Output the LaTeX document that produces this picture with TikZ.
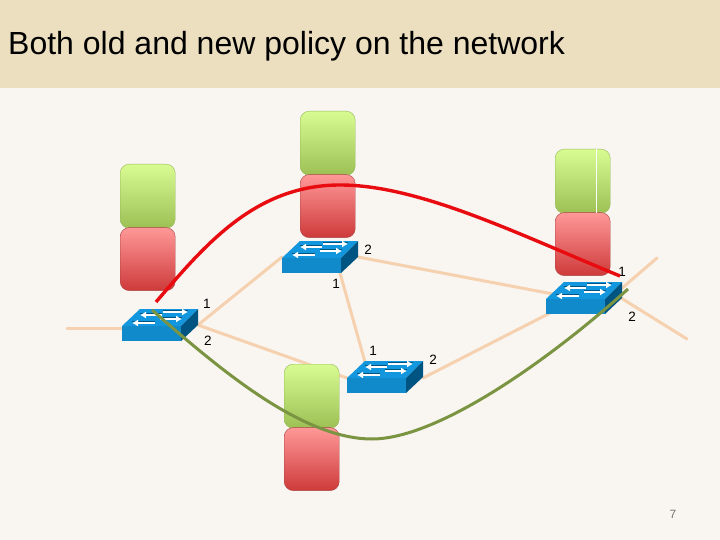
\documentclass[tikz,border=0pt]{standalone}
\usepackage{fontspec}
\setmainfont{Liberation Sans}
\usetikzlibrary{positioning}
\usetikzlibrary{arrows.meta}
\definecolor{figFondo}{RGB}{249,245,240}
\definecolor{figBanda}{RGB}{236,223,192}
\definecolor{figEnlace}{RGB}{245,209,176}
\definecolor{figRojo}{RGB}{232,12,16}
\definecolor{figOliva}{RGB}{122,148,66}
\definecolor{figTapa}{RGB}{18,150,222}
\definecolor{figLado}{RGB}{0,84,130}
\definecolor{figVerdeA}{RGB}{216,252,146}
\definecolor{figVerdeB}{RGB}{156,192,84}
\definecolor{figVerdeBorde}{RGB}{150,185,90}
\definecolor{figRojoA}{RGB}{255,152,152}
\definecolor{figRojoB}{RGB}{206,58,58}
\definecolor{figRojoBorde}{RGB}{170,70,70}
\tikzset{
  enlace/.style={line width=3pt, draw=figEnlace, line cap=round},
  curvar/.style={line width=3.4pt, draw=figRojo},
  curvav/.style={line width=3pt, draw=figOliva},
  bloquev/.style={
    rectangle, rounded corners=9pt, draw=figVerdeBorde, line width=0.4pt,
    top color=figVerdeA, bottom color=figVerdeB,
    minimum height=64pt, minimum width=55pt, inner sep=0pt
  },
  bloquer/.style={
    rectangle, rounded corners=9pt, draw=figRojoBorde, line width=0.4pt,
    top color=figRojoA, bottom color=figRojoB,
    minimum height=63pt, minimum width=55pt, inner sep=0pt
  },
  puerto/.style={font=\fontsize{13.5}{13.5}\selectfont, inner sep=0pt},
  flechita/.style={-{Latex[length=6pt,width=7pt]}, line width=2.2pt, draw=white},
  switch/.pic={
    \fill[figTapa] (0,-15) -- (59,-15) -- (76,-32) -- (18,-32) -- cycle;
    \fill[figTapa!92!black] (0,0) rectangle (59,-15);
    \fill[figLado] (59,0) -- (59,-15) -- (76,-32) -- (76,-16) -- cycle;
    \foreach \xa/\xb/\yy in {40/18/-26, 41/66/-29, 33/10/-18, 38/60/-22}{
      \draw[line width=0.7pt, draw=figLado] (\xa,\yy-1.8) -- (\xb,\yy-1.8);
      \draw[flechita] (\xa,\yy) -- (\xb,\yy);
    }
  }
}
\begin{document}
\begin{tikzpicture}[x=1pt,y=-1pt]
  \useasboundingbox (0,0) rectangle (720,540);
  \fill[figFondo] (0,0) rectangle (720,540);
  \fill[figBanda] (0,0) rectangle (720,88);
  \node[anchor=base west, font=\fontsize{32}{32}\selectfont, inner sep=0pt] (titulo) at (8,55) {Both old and new policy on the network};
  % switch positions
  \coordinate (sA) at (122,341);
  \coordinate (sB) at (282,273);
  \coordinate (sC) at (347,393);
  \coordinate (sD) at (546,314);
  \coordinate (libreI) at (67,328);
  \coordinate (libreS) at (657,258);
  \coordinate (libreB) at (687,339);
  \coordinate (aIzq) at (122,328);
  \coordinate (aDer) at (198,325);
  \coordinate (bIzq) at (282,257);
  \coordinate (cIzq) at (347,378);
  \coordinate (cSup) at (365,362);
  \coordinate (bInf) at (340,273);
  \coordinate (bDer) at (358,257);
  \coordinate (dIzq) at (553,294);
  \coordinate (dInf) at (550,313);
  \coordinate (cDer) at (423,378);
  \coordinate (dDer) at (621,289);
  \coordinate (dDerB) at (621,298);
  % links
  \draw[enlace] (libreI) -- (aIzq);
  \draw[enlace] (aDer) -- (bIzq);
  \draw[enlace] (aDer) -- (cIzq);
  \draw[enlace] (bInf) -- (cSup);
  \draw[enlace] (bDer) -- (dIzq);
  \draw[enlace] (cDer) -- (dInf);
  \draw[enlace] (dDer) -- (libreS);
  \draw[enlace] (dDerB) -- (libreB);
  % policy blocks
  \node[bloquev, anchor=north west] (vA) at (120,164) {};
  \node[bloquer, below=-1pt of vA] (rA) {};
  \node[bloquev, anchor=north west] (vB) at (300,111) {};
  \node[bloquer, below=-1pt of vB] (rB) {};
  \node[bloquev, anchor=north west] (vD) at (555,149) {};
  \node[bloquer, below=-1pt of vD] (rD) {};
  \node[bloquev, anchor=north west] (vC) at (284,364) {};
  \node[bloquer, below=-1pt of vC] (rC) {};
  \draw[white, line width=0.7pt] ([xshift=-14pt]vD.north east) -- ([xshift=-14pt]vD.south east);
  % switches
  \pic at (sA) {switch};
  \pic at (sB) {switch};
  \pic at (sC) {switch};
  \pic at (sD) {switch};
  % ports
  \node[puerto] (pB2) at (368,250) {2};
  \node[puerto] (pD1) at (622,272) {1};
  \node[puerto] (pB1) at (336,284) {1};
  \node[puerto] (pA1) at (207,304) {1};
  \node[puerto] (pD2) at (632,317) {2};
  \node[puerto] (pA2) at (208,341) {2};
  \node[puerto] (pC1) at (373,351) {1};
  \node[puerto] (pC2) at (433,360) {2};
  % policies
  \coordinate (rojoI) at (156,302);
  \coordinate (rojoM) at (340,185);
  \coordinate (rojoF) at (620,276);
  \coordinate (verdeI) at (152,310);
  \coordinate (verdeM) at (372,439);
  \coordinate (verdeF) at (628,289);
  \draw[curvar] (rojoI) .. controls (205,245) and (255,185) .. (rojoM) .. controls (420,185) and (520,235) .. (rojoF);
  \draw[curvav] (verdeI) .. controls (215,365) and (300,439) .. (verdeM) .. controls (440,439) and (555,355) .. (verdeF);
  \node[font=\fontsize{12}{12}\selectfont, text=black!55, inner sep=0pt] (pagina) at (673,514) {7};
\end{tikzpicture}
\end{document}
